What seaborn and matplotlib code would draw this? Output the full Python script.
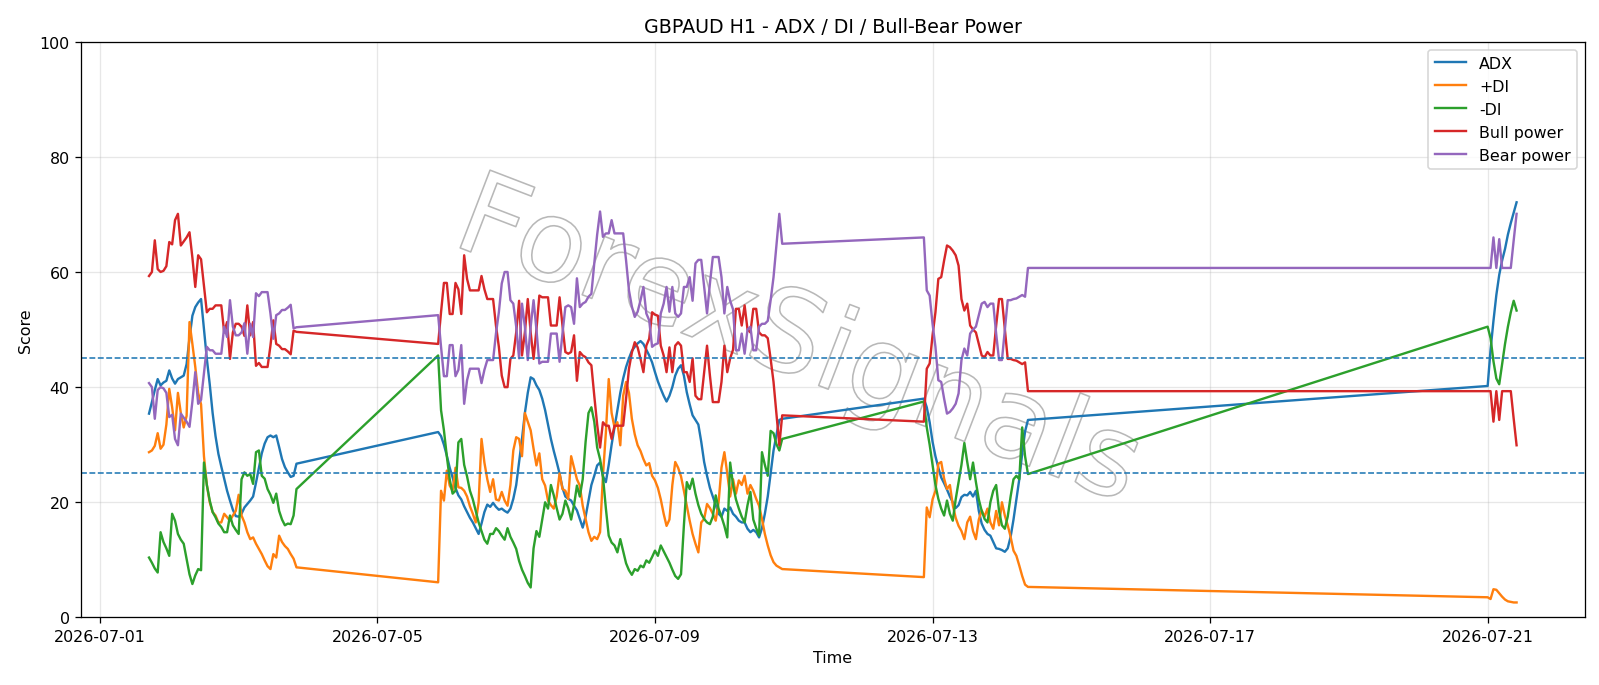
import numpy as np
import pandas as pd
import matplotlib
matplotlib.use("Agg")
import matplotlib.pyplot as plt
import matplotlib.dates as mdates
import matplotlib.patheffects as pe
import seaborn as sns

TITLE = "GBPAUD H1 - ADX / DI / Bull-Bear Power"
SERIES = ["ADX", "+DI", "-DI", "Bull power", "Bear power"]
COLORS = ["#1f77b4", "#ff7f0e", "#2ca02c", "#d62728", "#9467bd"]
SEGMENT_STARTS = ["2026-07-01 17:00", "2026-07-05 21:00", "2026-07-12 21:00", "2026-07-21 00:00"]
LEVELS = [25, 45]
XTICKS = ["2026-07-01", "2026-07-05", "2026-07-09", "2026-07-13", "2026-07-17", "2026-07-21"]
YTICKS = [0, 20, 40, 60, 80, 100]
WATERMARK = "ForexSignals"

# ---- segment 1 (hourly) ----
adx_1 = [35.4, 37.4, 39.5, 41.4, 40.3, 40.8, 41.1, 42.9, 41.5, 40.6, 41.4, 41.7, 42.0, 44.0, 48.5,
         52.4, 53.9, 54.7, 55.3, 50.1, 44.9, 40.5, 35.5, 31.5, 28.4, 26.2, 24.1, 22.0, 20.3, 18.7,
         17.6, 17.5, 18.0, 19.1, 19.7, 20.3, 21.0, 23.4, 26.0, 28.5, 30.2, 31.3, 31.6, 31.3, 31.6,
         29.6, 27.5, 26.1, 25.2, 24.4, 24.6, 26.7]
pdi_1 = [28.7, 29.0, 29.8, 32.0, 29.3, 30.0, 33.5, 39.7, 36.5, 32.5, 39.0, 35.5, 33.0, 35.0, 51.3,
         47.5, 43.5, 39.0, 37.0, 28.0, 23.0, 20.0, 18.3, 17.7, 16.5, 16.5, 18.0, 17.4, 16.8, 17.7,
         18.5, 21.3, 17.7, 16.5, 14.8, 13.6, 13.9, 12.8, 11.9, 11.0, 9.9, 8.9, 8.4, 11.0, 10.4,
         14.2, 13.1, 12.4, 11.9, 11.0, 10.2, 8.7]
mdi_1 = [10.4, 9.5, 8.5, 7.8, 14.8, 13.1, 12.0, 10.7, 18.0, 16.8, 14.5, 13.5, 12.8, 10.2, 7.5,
         5.8, 7.3, 8.4, 8.2, 26.9, 23.0, 20.3, 18.3, 17.4, 16.3, 15.7, 14.8, 14.8, 17.7, 16.0,
         15.2, 14.5, 24.0, 25.2, 24.6, 24.9, 23.2, 28.7, 29.0, 24.6, 24.1, 22.3, 21.3, 19.9, 21.5,
         18.5, 17.0, 16.0, 16.3, 16.2, 17.7, 22.3]
bull_1 = [59.3, 60.0, 65.5, 60.5, 60.0, 60.2, 61.0, 65.2, 64.8, 69.0, 70.1, 64.6, 65.3, 66.0, 66.9,
          62.5, 57.4, 62.9, 62.2, 57.6, 53.0, 53.6, 53.6, 54.2, 54.2, 54.2, 49.5, 51.3, 44.9, 49.5,
          51.0, 51.0, 50.5, 48.9, 54.2, 49.0, 51.3, 43.7, 44.2, 43.5, 43.5, 43.5, 47.2, 51.6, 47.5,
          47.2, 46.6, 46.6, 46.2, 45.7, 49.8, 49.6]
bear_1 = [40.7, 40.0, 34.5, 39.5, 40.0, 39.8, 39.0, 34.8, 35.2, 31.0, 29.9, 35.4, 34.7, 34.0, 33.1,
          37.5, 42.6, 37.1, 37.8, 42.4, 47.0, 46.4, 46.4, 45.8, 45.8, 45.8, 50.5, 48.7, 55.1, 50.5,
          49.0, 49.0, 49.5, 51.1, 45.8, 51.0, 48.7, 56.3, 55.8, 56.5, 56.5, 56.5, 52.8, 48.4, 52.5,
          52.8, 53.4, 53.4, 53.8, 54.3, 50.2, 50.4]

# ---- segment 2 ----
adx_2 = [32.2, 31.5, 30.0, 28.1, 26.0, 24.3, 22.5, 21.2, 20.5, 19.3,
         18.3, 17.3, 16.5, 15.5, 14.5, 16.3, 18.3, 19.6, 19.2, 19.9,
         19.2, 18.7, 18.9, 18.5, 18.2, 18.9, 20.6, 23.0, 27.0, 31.0,
         35.5, 39.0, 41.7, 41.4, 40.3, 39.5, 38.0, 36.0, 33.5, 31.0,
         28.9, 27.0, 25.0, 22.5, 21.0, 20.6, 20.3, 19.4, 18.6, 17.1,
         15.6, 17.5, 20.3, 23.0, 24.6, 26.4, 26.9, 24.5, 23.5, 26.5,
         30.0, 33.0, 36.0, 39.0, 41.5, 43.5, 45.0, 46.3, 47.0, 47.6,
         48.0, 47.5, 46.5, 45.5, 44.3, 42.6, 41.0, 39.7, 38.5, 37.5,
         38.5, 40.0, 42.0, 43.2, 43.8, 42.0, 39.1, 37.0, 35.1, 34.3,
         33.5, 30.5, 27.0, 24.6, 22.5, 21.0, 19.5, 18.0, 17.5, 18.9,
         18.5, 19.1, 18.0, 17.5, 16.8, 16.5, 16.5, 15.4, 14.8, 15.2,
         14.8, 13.9, 15.5, 18.0, 21.0, 25.0, 29.0, 31.6, 34.3, 34.5]
pdi_2 = [6.1, 22.0, 20.3, 25.5, 22.9, 22.0, 26.0, 22.6, 22.5, 22.0,
         21.0, 19.3, 18.0, 16.5, 20.0, 31.0, 26.9, 24.0, 21.8, 24.0,
         20.5, 20.3, 21.8, 20.3, 19.4, 23.0, 29.0, 31.3, 31.0, 28.0,
         35.5, 34.0, 32.5, 29.3, 26.4, 28.5, 24.0, 22.9, 20.3, 19.5,
         18.9, 21.0, 25.0, 22.3, 22.0, 20.6, 28.0, 26.0, 24.0, 22.9,
         19.4, 17.1, 14.8, 13.3, 14.0, 13.6, 14.8, 24.6, 32.0, 41.4,
         35.5, 33.0, 33.9, 29.9, 38.5, 40.9, 39.0, 34.5, 31.8, 29.9,
         28.9, 27.5, 26.4, 26.8, 24.6, 23.8, 22.5, 20.5, 18.0, 15.9,
         17.0, 23.0, 27.0, 26.0, 24.5, 22.0, 19.4, 16.8, 14.5, 12.8,
         11.3, 16.5, 17.1, 19.7, 19.0, 18.0, 16.8, 20.0, 26.0, 28.7,
         25.0, 21.0, 24.0, 21.5, 23.8, 23.0, 24.6, 21.5, 23.0, 22.0,
         20.6, 19.4, 17.1, 14.5, 12.5, 10.8, 9.6, 9.0, 8.7, 8.4]
mdi_2 = [45.5, 36.0, 32.5, 28.0, 24.0, 21.5, 22.0, 30.4, 31.0, 26.5,
         24.5, 22.0, 20.5, 18.5, 16.5, 15.0, 13.5, 12.8, 14.5, 14.5,
         15.5, 15.0, 14.2, 13.5, 15.5, 14.0, 13.0, 11.9, 9.8, 8.3,
         7.2, 6.0, 5.2, 12.0, 15.0, 14.0, 17.0, 20.0, 18.9, 23.0,
         21.2, 19.0, 17.0, 18.0, 20.3, 19.0, 17.0, 19.5, 22.9, 21.0,
         24.0, 30.5, 35.5, 36.5, 34.0, 29.5, 27.5, 24.5, 19.0, 14.2,
         13.0, 12.5, 11.3, 13.6, 11.5, 9.4, 8.2, 7.4, 8.4, 8.1,
         9.0, 8.7, 9.9, 9.5, 10.5, 11.6, 10.7, 12.5, 11.5, 10.5,
         9.5, 8.3, 7.2, 6.7, 7.5, 16.0, 23.5, 22.3, 24.1, 21.5,
         19.5, 18.0, 17.1, 16.5, 16.2, 17.5, 21.2, 18.9, 17.5, 15.9,
         13.9, 26.9, 23.0, 20.5, 18.9, 17.5, 16.5, 19.5, 21.8, 17.0,
         15.5, 14.2, 28.7, 26.5, 24.6, 32.4, 32.0, 30.1, 29.0, 31.0]
bull_2 = [47.5, 53.0, 58.1, 58.1, 52.7, 52.7, 58.1, 57.0, 52.7, 62.9,
          58.8, 56.8, 56.8, 56.8, 56.8, 59.3, 57.0, 55.3, 55.3, 55.3,
          50.7, 47.0, 42.0, 40.0, 40.0, 44.9, 45.5, 49.5, 55.0, 45.5,
          49.5, 55.3, 49.5, 44.9, 50.0, 55.9, 55.6, 55.6, 55.6, 50.7,
          50.7, 50.7, 55.6, 50.7, 46.1, 45.8, 46.1, 49.0, 41.1, 46.1,
          45.5, 45.2, 44.3, 43.8, 38.5, 33.5, 29.5, 33.9, 33.3, 33.3,
          31.0, 33.3, 33.3, 33.3, 33.3, 38.0, 43.2, 46.0, 47.8, 46.9,
          44.9, 42.6, 47.2, 48.4, 53.0, 52.6, 52.4, 47.2, 45.5, 42.6,
          46.9, 42.6, 47.2, 47.8, 47.2, 42.6, 42.6, 40.9, 45.0, 38.5,
          37.9, 37.9, 42.6, 47.2, 42.0, 37.4, 37.4, 37.4, 40.9, 47.2,
          42.6, 45.0, 46.5, 53.6, 53.6, 50.7, 54.2, 50.0, 49.5, 53.6,
          53.6, 49.5, 49.0, 49.0, 48.5, 44.9, 40.9, 35.5, 29.9, 35.1]
bear_2 = [52.5, 47.0, 41.9, 41.9, 47.3, 47.3, 41.9, 43.0, 47.3, 37.1,
          41.2, 43.2, 43.2, 43.2, 43.2, 40.7, 43.0, 44.7, 44.7, 44.7,
          49.3, 53.0, 58.0, 60.0, 60.0, 55.1, 54.5, 50.5, 45.0, 54.5,
          50.5, 44.7, 50.5, 55.1, 50.0, 44.1, 44.4, 44.4, 44.4, 49.3,
          49.3, 49.3, 44.4, 49.3, 53.9, 54.2, 53.9, 51.0, 58.9, 53.9,
          54.5, 54.8, 55.7, 56.2, 61.5, 66.5, 70.5, 66.1, 66.7, 66.7,
          69.0, 66.7, 66.7, 66.7, 66.7, 62.0, 56.8, 54.0, 52.2, 53.1,
          55.1, 57.4, 52.8, 51.6, 47.0, 47.4, 47.6, 52.8, 54.5, 57.4,
          53.1, 57.4, 52.8, 52.2, 52.8, 57.4, 57.4, 59.1, 55.0, 61.5,
          62.1, 62.1, 57.4, 52.8, 58.0, 62.6, 62.6, 62.6, 59.1, 52.8,
          57.4, 55.0, 53.5, 46.4, 46.4, 49.3, 45.8, 50.0, 50.5, 46.4,
          46.4, 50.5, 51.0, 51.0, 51.5, 55.1, 59.1, 64.5, 70.1, 64.9]

# ---- segment 3 ----
adx_3 = [38.0, 36.5, 33.9, 30.5, 28.0, 26.0, 24.3, 23.3, 22.2, 21.0,
         20.0, 19.0, 19.5, 20.9, 21.3, 21.2, 21.8, 21.0, 22.0, 18.5,
         16.3, 15.2, 14.5, 14.2, 13.1, 12.0, 11.9, 11.7, 11.4, 12.0,
         14.0, 17.0, 20.5, 24.0, 28.5, 32.3, 34.3]
pdi_3 = [7.0, 19.1, 17.4, 20.5, 22.0, 26.7, 27.0, 24.1, 22.3, 23.0,
         19.5, 17.3, 15.9, 15.0, 13.6, 16.5, 17.5, 15.0, 13.6, 17.0,
         18.6, 17.5, 18.9, 16.5, 15.4, 18.5, 16.0, 20.0, 17.7, 16.0,
         14.0, 11.6, 10.7, 9.0, 7.2, 5.7, 5.3]
mdi_3 = [37.5, 33.0, 30.0, 26.5, 23.0, 20.6, 18.9, 17.7, 20.3, 18.0,
         16.8, 20.5, 23.5, 26.5, 30.3, 27.0, 24.0, 26.9, 23.5, 20.5,
         18.5, 17.1, 16.5, 20.0, 22.0, 23.0, 18.5, 16.0, 15.4, 17.5,
         21.0, 24.0, 24.6, 24.0, 33.0, 28.0, 24.9]
bull_3 = [34.0, 43.2, 44.1, 49.0, 53.0, 58.8, 59.1, 62.0, 64.6, 64.3,
          63.7, 62.9, 61.1, 55.3, 53.3, 54.5, 50.7, 50.0, 49.5, 47.5,
          45.5, 45.2, 46.1, 45.5, 45.5, 50.7, 55.3, 55.3, 50.0, 44.9,
          44.9, 44.7, 44.6, 44.3, 44.0, 44.3, 39.3]
bear_3 = [66.0, 56.8, 55.9, 51.0, 47.0, 41.2, 40.9, 38.0, 35.4, 35.7,
          36.3, 37.1, 38.9, 44.7, 46.7, 45.5, 49.3, 50.0, 50.5, 52.5,
          54.5, 54.8, 53.9, 54.5, 54.5, 49.3, 44.7, 44.7, 50.0, 55.1,
          55.1, 55.3, 55.4, 55.7, 56.0, 55.7, 60.7]

# ---- segment 4 ----
adx_4 = [40.2, 46.5, 51.5, 56.0, 59.5, 62.0, 64.0, 66.5, 68.5, 70.3, 72.1]
pdi_4 = [3.5, 3.2, 4.9, 4.8, 4.2, 3.6, 3.1, 2.8, 2.7, 2.6, 2.6]
mdi_4 = [50.5, 48.5, 44.5, 41.5, 40.5, 44.0, 47.5, 50.5, 53.0, 55.0, 53.3]
bull_4 = [39.3, 39.3, 34.0, 39.3, 34.3, 39.3, 39.3, 39.3, 39.3, 34.5, 29.9]
bear_4 = [60.7, 60.7, 66.0, 60.7, 65.7, 60.7, 60.7, 60.7, 60.7, 65.5, 70.1]

# ---------------------------------------------------------------
segments = [
    (adx_1, pdi_1, mdi_1, bull_1, bear_1),
    (adx_2, pdi_2, mdi_2, bull_2, bear_2),
    (adx_3, pdi_3, mdi_3, bull_3, bear_3),
    (adx_4, pdi_4, mdi_4, bull_4, bear_4),
]
frames = []
for start, seg in zip(SEGMENT_STARTS, segments):
    t = pd.date_range(start, periods=len(seg[0]), freq="h")
    d = {"Time": t}
    for name, vals in zip(SERIES, seg):
        d[name] = vals
    frames.append(pd.DataFrame(d))
wide = pd.concat(frames, ignore_index=True)
long = wide.melt(id_vars="Time", var_name="Series", value_name="Score")

fig = plt.figure(figsize=(14, 6.0025), dpi=114.2857)
ax = fig.add_subplot(111)
fig.subplots_adjust(left=0.0504, right=0.9906, top=0.9378, bottom=0.0985)

ax.grid(True, alpha=0.3)
ax.set_axisbelow(True)

ax.text(0.477, 0.475, WATERMARK, transform=ax.transAxes, fontsize=72, rotation=-21,
        ha="center", va="center", color="none",
        family=["Liberation Sans Narrow", "DejaVu Sans"],
        path_effects=[pe.Stroke(linewidth=1.0, foreground="#b8b8b8")], zorder=1)

sns.lineplot(data=long, x="Time", y="Score", hue="Series", hue_order=SERIES,
             palette=COLORS, linewidth=1.5, errorbar=None, sort=False, ax=ax)

for lv in LEVELS:
    ax.axhline(lv, color="#1f77b4", linestyle="--", linewidth=1.0)

ax.set_ylim(0, 100)
ax.set_yticks(YTICKS)
ax.set_xticks(pd.to_datetime(XTICKS))
ax.xaxis.set_major_formatter(mdates.DateFormatter("%Y-%m-%d"))
ax.set_title(TITLE)
ax.set_xlabel("Time")
ax.set_ylabel("Score")

handles, labels = ax.get_legend_handles_labels()
ax.legend(handles, labels, loc="upper right")

fig.savefig("out.png", dpi=114.2857)
